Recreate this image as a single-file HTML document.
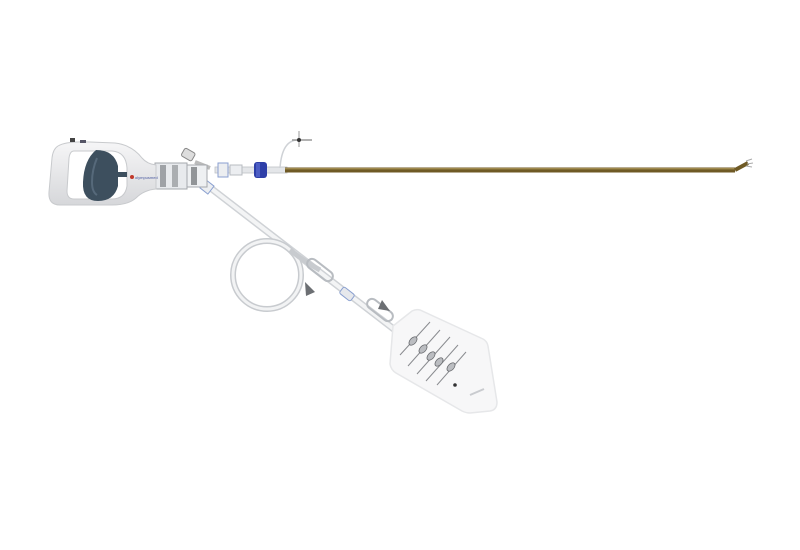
<!DOCTYPE html>
<html><head><meta charset="utf-8"><style>html,body{margin:0;background:#fff}svg{display:block}</style></head>
<body>
<svg width="800" height="550" viewBox="0 0 800 550" xmlns="http://www.w3.org/2000/svg">
<defs>
<linearGradient id="h" x1="0" y1="0" x2="0" y2="1"><stop offset="0" stop-color="#f6f6f7"/><stop offset="1" stop-color="#d6d7da"/></linearGradient>
</defs>
<path d="M208,186 L395,330" stroke="#cfd2d6" stroke-width="7" fill="none"/>
<path d="M208,186 L395,330" stroke="#f3f4f5" stroke-width="4" fill="none"/>
<circle cx="267" cy="275" r="34" fill="none" stroke="#c8cbcf" stroke-width="6"/>
<circle cx="267" cy="275" r="34" fill="none" stroke="#f2f3f4" stroke-width="3"/>
<path d="M290,250 Q305,262 320,270" stroke="#c8cbcf" stroke-width="5" fill="none"/>
<rect x="305" y="265" width="30" height="10" rx="5" transform="rotate(38 320 270)" fill="none" stroke="#b8bcc1" stroke-width="2"/>
<polygon points="305,282 315,292 306,296" fill="#6c6f73"/>
<rect x="340" y="290" width="14" height="8" rx="2" transform="rotate(38 347 294)" fill="#e6e8ec" stroke="#8aa0d0"/>
<rect x="365" y="305" width="30" height="10" rx="5" transform="rotate(38 380 310)" fill="none" stroke="#b8bcc1" stroke-width="2"/>
<polygon points="382,300 390,311 378,309" fill="#6c6f73"/>
<path d="M393,326 L412,311 Q416,309 420,310 L483,339 Q487,341 488,346 L497,402 Q497,410 490,411 L470,413 Q466,413 462,411 L396,373 Q391,370 390,364 Z" fill="#f7f7f8" stroke="#e6e7e9" stroke-width="1.5"/>
<g stroke="#8a8c90" stroke-width="1">
<line x1="400" y1="355" x2="430" y2="322"/><line x1="408" y1="366" x2="440" y2="330"/>
<line x1="417" y1="374" x2="450" y2="337"/><line x1="426" y1="381" x2="458" y2="345"/>
<line x1="437" y1="385" x2="466" y2="352"/>
</g>
<g fill="#bbbdc1" stroke="#6c6e72" stroke-width="0.8">
<ellipse cx="413" cy="341" rx="5" ry="3" transform="rotate(-48 413 341)"/>
<ellipse cx="423" cy="349" rx="5" ry="3" transform="rotate(-48 423 349)"/>
<ellipse cx="431" cy="356" rx="5" ry="3" transform="rotate(-48 431 356)"/>
<ellipse cx="439" cy="362" rx="5" ry="3" transform="rotate(-48 439 362)"/>
<ellipse cx="451" cy="367" rx="5" ry="3" transform="rotate(-48 451 367)"/>
</g>
<circle cx="455" cy="385" r="1.8" fill="#333"/>
<line x1="470" y1="395" x2="484" y2="389" stroke="#c9cbcf" stroke-width="2"/>
<rect x="215" y="167" width="72" height="6" fill="#e4e6e9" stroke="#bfc2c6" stroke-width="0.8"/>
<rect x="285" y="167.5" width="450" height="5" fill="#6f5a25"/>
<rect x="285" y="168" width="450" height="1.4" fill="#a08a4e"/>
<path d="M735,170 L748,163" stroke="#6f5a25" stroke-width="4"/>
<path d="M746,161 l6,-2 M747,164 l6,-1 M746,166 l6,1" stroke="#aaa" stroke-width="1"/>
<path d="M280,168 Q282,140 298,140" stroke="#cfd2d6" stroke-width="1.5" fill="none"/>
<line x1="292" y1="140" x2="312" y2="140" stroke="#999" stroke-width="1.5"/>
<line x1="299" y1="131" x2="299" y2="147" stroke="#999" stroke-width="1"/>
<circle cx="299" cy="140" r="2" fill="#333"/>
<rect x="254" y="162" width="13" height="16" rx="3" fill="#2e3fa8"/>
<rect x="256" y="163" width="4" height="14" fill="#4c5dc4"/>
<rect x="218" y="163" width="10" height="14" fill="#eceef1" stroke="#8a9fd0"/>
<rect x="230" y="165" width="12" height="10" fill="#eceef1" stroke="#b8bcc1"/>
<rect x="182" y="150" width="12" height="9" rx="2" transform="rotate(30 188 155)" fill="#ddd" stroke="#888"/>
<path d="M195,162 L210,168" stroke="#bbb" stroke-width="4"/>
<rect x="202" y="182" width="10" height="10" transform="rotate(38 207 187)" fill="#eceef1" stroke="#8aa0d0"/>
<rect x="155" y="163" width="32" height="26" fill="#e8eaed" stroke="#a5a8ad"/>
<rect x="160" y="165" width="6" height="22" fill="#6e7176" opacity="0.6"/>
<rect x="172" y="165" width="6" height="22" fill="#6e7176" opacity="0.5"/>
<rect x="187" y="165" width="20" height="22" fill="#eef0f2" stroke="#a5a8ad"/>
<rect x="191" y="167" width="6" height="18" fill="#55585c" opacity="0.6"/>
<path fill-rule="evenodd" d="M58,146 Q66,141 90,142 L115,143 Q132,145 142,158 Q147,164 156,165 L156,189 Q144,190 136,198 Q128,205 112,205 L60,205 Q48,205 49,192 L52,158 Q53,149 58,146 Z
M74,151 L112,151 Q126,152 127,168 L127,186 Q125,199 112,199 L74,199 Q67,199 67,191 L69,158 Q70,151 74,151 Z" fill="url(#h)" stroke="#c8cacd"/>
<path d="M96,150 Q114,150 118,166 L118,186 Q114,201 98,201 Q82,201 83,182 Q84,160 96,150 Z" fill="#3d4f5e"/>
<path d="M97,158 Q92,170 92,182 Q92,192 97,195" stroke="#56697a" stroke-width="2" fill="none"/>
<rect x="117" y="172" width="10" height="5" fill="#3d4f5e"/>
<rect x="70" y="138" width="5" height="4" fill="#444"/>
<rect x="80" y="140" width="6" height="3" fill="#556"/>
<circle cx="132" cy="177" r="2" fill="#c0392b"/>
<text x="135" y="179" font-family="Liberation Sans, sans-serif" font-size="4" fill="#4a5aa0">olympusmed</text>
</svg>
</body></html>
